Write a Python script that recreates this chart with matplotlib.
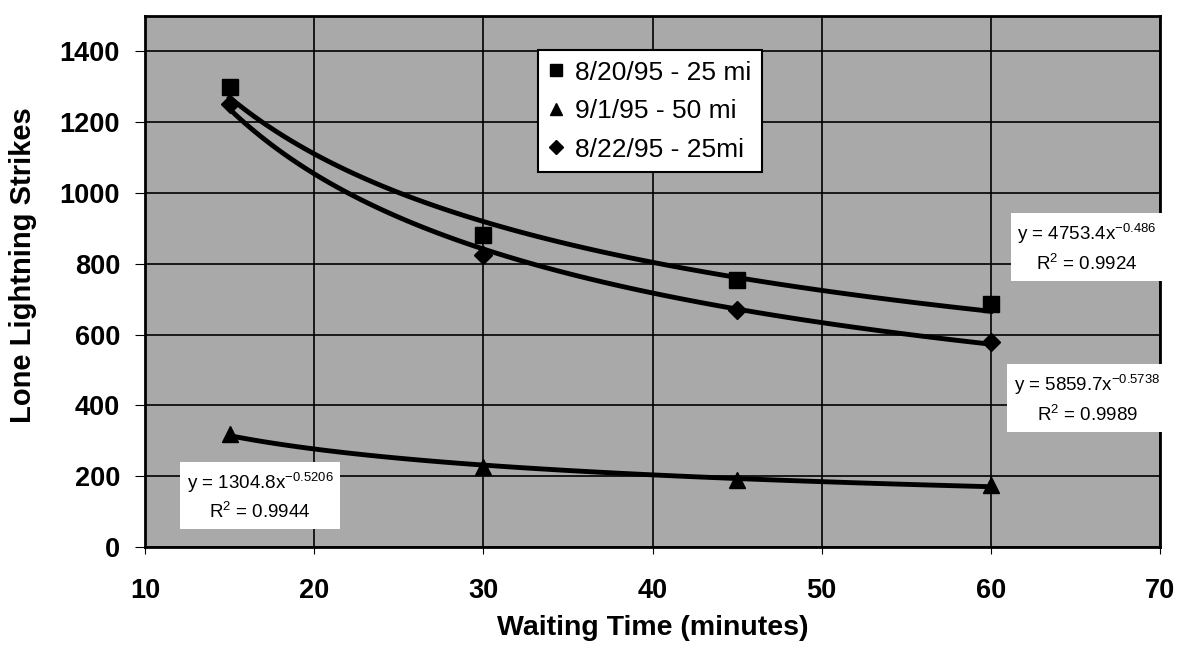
import numpy as np
import matplotlib.pyplot as plt

plt.rcParams['font.family'] = ['Liberation Sans', 'DejaVu Sans']
plt.rcParams['mathtext.default'] = 'regular'

# values
wait_min = [15, 30, 45, 60]
strikes_0820 = [1300, 880, 755, 685]
strikes_0901 = [320, 225, 190, 175]
strikes_0822 = [1250, 825, 670, 580]

names = ['8/20/95 - 25 mi', '9/1/95 - 50 mi', '8/22/95 - 25mi']
markers = ['s', '^', 'D']
series = [strikes_0820, strikes_0901, strikes_0822]
eq_text = [r'y = 4753.4x$^{-0.486}$' + '\n' + r'R$^2$ = 0.9924',
           r'y = 1304.8x$^{-0.5206}$' + '\n' + r'R$^2$ = 0.9944',
           r'y = 5859.7x$^{-0.5738}$' + '\n' + r'R$^2$ = 0.9989']
eq_pos = [(65.7, 845), (16.8, 142), (65.7, 418)]

fig = plt.figure(figsize=(11.82, 6.47), dpi=100)
ax = fig.add_axes([0.1227, 0.1546, 0.8587, 0.8207])
ax.set_facecolor('#a9a9a9')

xs = np.array(wait_min, dtype=float)
xfit = np.linspace(15, 60, 100)
for vals, name, mk, txt, pos in zip(series, names, markers, eq_text, eq_pos):
    # power trend line, fitted in log space
    b, a = np.polyfit(np.log(xs), np.log(vals), 1)
    ax.plot(xfit, np.exp(a) * xfit ** b, color='black', lw=3.5, zorder=3)
    ms = 9 if mk == 'D' else 11
    ax.plot(wait_min, vals, ls='none', marker=mk, ms=ms, color='black',
            label=name, zorder=4)
    ax.text(pos[0], pos[1], txt, ha='center', va='center', fontsize=13.5,
            linespacing=1.45, zorder=5,
            bbox=dict(facecolor='white', edgecolor='none', pad=5))

ax.set_xlim(10, 70)
ax.set_ylim(0, 1500)
ax.set_xticks(range(10, 71, 10))
ax.set_yticks(range(0, 1401, 200))
ax.grid(True, color='black', lw=1.2)
ax.set_axisbelow(True)
for s in ax.spines.values():
    s.set_linewidth(2)
ax.tick_params(axis='x', length=5, pad=17, labelsize=19.5)
ax.tick_params(axis='y', length=7, pad=11, labelsize=19.5)
for lbl in ax.get_xticklabels() + ax.get_yticklabels():
    lbl.set_fontweight('bold')
ax.set_xlabel('Waiting Time (minutes)', fontsize=20.5, fontweight='bold')
ax.set_ylabel('Lone Lightning Strikes', fontsize=21, fontweight='bold')
ax.xaxis.set_label_coords(0.5, -0.128)
ax.yaxis.set_label_coords(-0.106, 0.531)

leg = ax.legend(loc='upper left', bbox_to_anchor=(0.387, 0.936), fontsize=19,
                frameon=True, fancybox=False, edgecolor='black', framealpha=1,
                handlelength=0.6, handletextpad=0.4, markerscale=0.75,
                borderpad=0.4, labelspacing=0.55, borderaxespad=0)
leg.get_frame().set_linewidth(1.5)

fig.savefig('out.png', dpi=100)
